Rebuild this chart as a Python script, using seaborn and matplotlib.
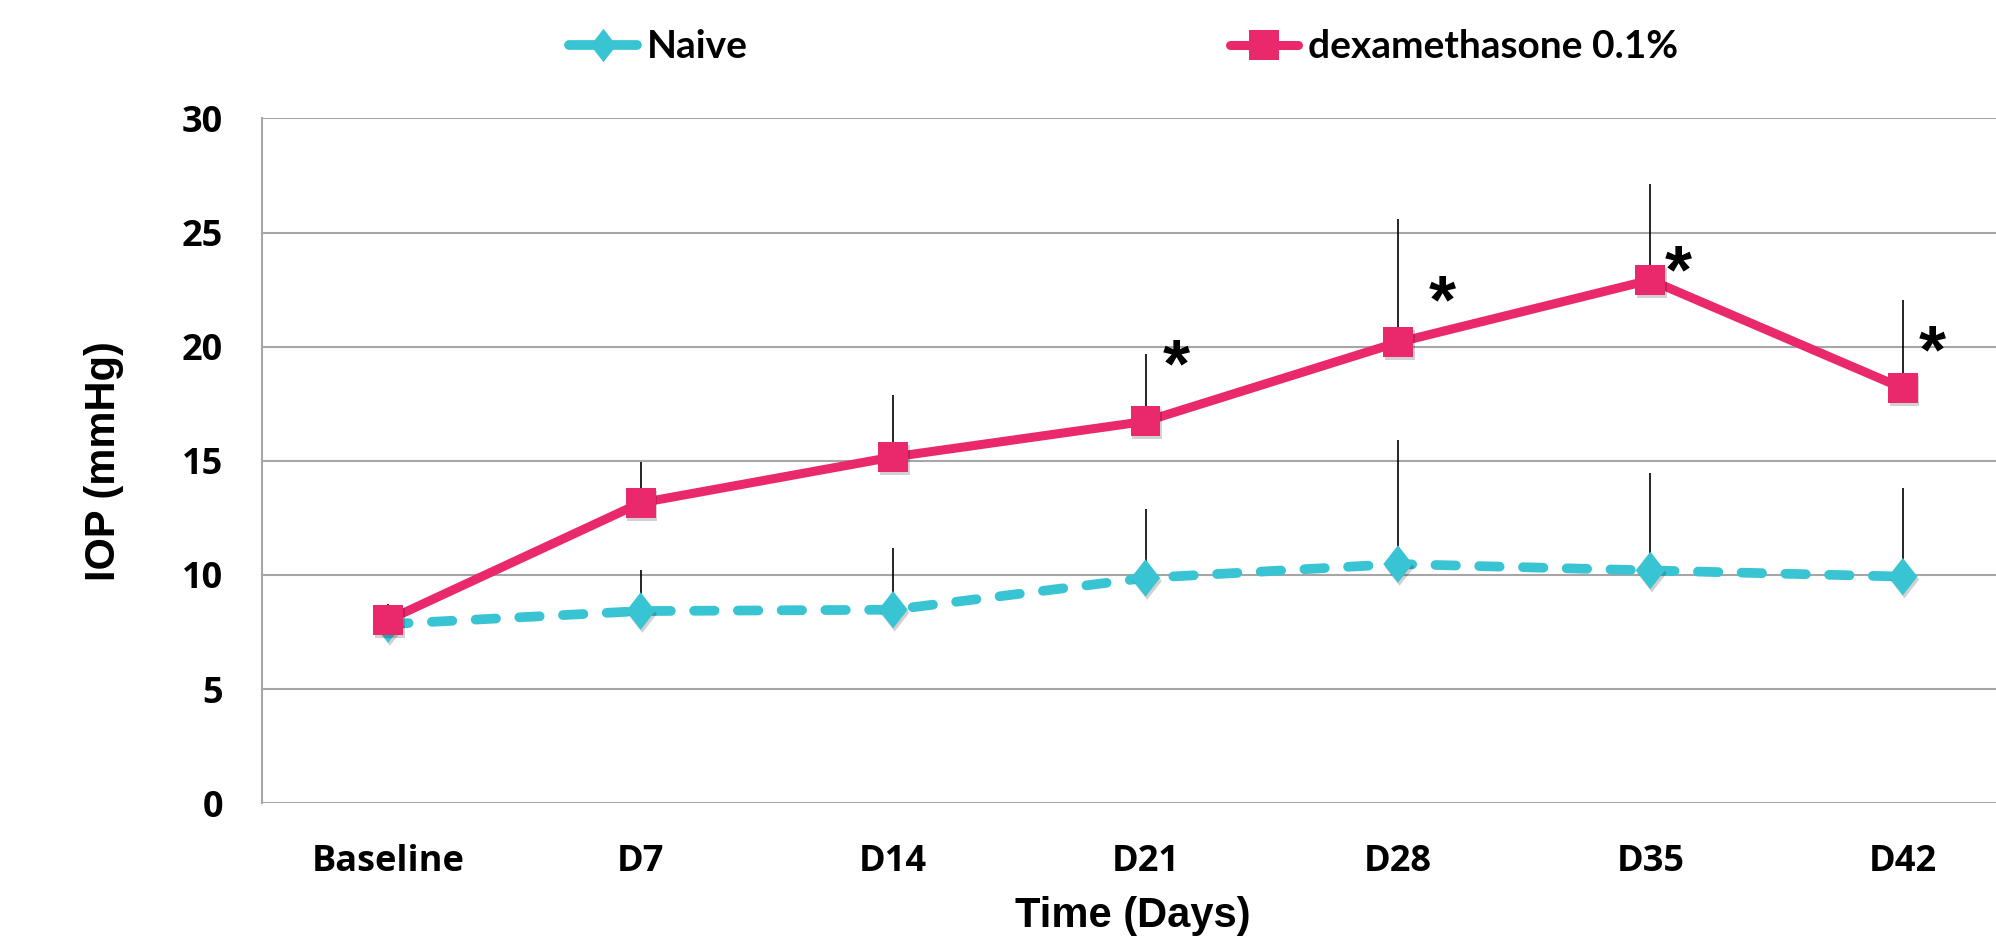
import numpy as np
import pandas as pd
import matplotlib
matplotlib.use("Agg")
import matplotlib.pyplot as plt
import matplotlib.patheffects as pe
from matplotlib.path import Path
from matplotlib.lines import Line2D
import seaborn as sns

# ---- data -------------------------------------------------------------
timepoints = ["Baseline", "D7", "D14", "D21", "D28", "D35", "D42"]
naive_mean = [7.85, 8.42, 8.48, 9.87, 10.48, 10.20, 9.93]
naive_err = [0.5, 1.8, 2.7, 3.0, 5.45, 4.25, 3.9]
dex_mean = [8.03, 13.16, 15.17, 16.73, 20.19, 22.92, 18.18]
dex_err = [0.7, 1.8, 2.7, 2.95, 5.4, 4.2, 3.85]
# significance marks beside the whiskers (category position, height in mmHg)
star_x = [3.12, 4.175, 5.11, 6.115]
star_y = [19.8, 22.6, 23.9, 20.4]
y_ticks = [0, 5, 10, 15, 20, 25, 30]

CYAN = "#38C4D3"
RED = "#E9296B"
GRID = "#A6A6A6"

sns.set_theme(style="white")
plt.rcParams["font.family"] = ["Open Sans", "DejaVu Sans"]
plt.rcParams.update({"text.color": "black", "axes.labelcolor": "black",
                     "xtick.color": "black", "ytick.color": "black"})

df = pd.DataFrame({
    "pos": np.tile(np.arange(len(timepoints)), 2),
    "iop": naive_mean + dex_mean,
    "err": naive_err + dex_err,
    "group": ["Naive"] * len(timepoints) + ["dexamethasone 0.1%"] * len(timepoints),
})

W, H = 1996, 942
fig = plt.figure(figsize=(W / 100, H / 100), dpi=100)
ax = fig.add_axes([262 / W, 1 - 803.3 / H, (2029 - 262) / W, (803.3 - 118.4) / H])

# slightly tall diamond
diamond = Path([(0, 1), (0.78, 0), (0, -1), (-0.78, 0), (0, 1)],
               [Path.MOVETO, Path.LINETO, Path.LINETO, Path.LINETO, Path.CLOSEPOLY])

naive = df[df.group == "Naive"]
dex = df[df.group != "Naive"]

# upper error whiskers
for sub in (naive, dex):
    ax.errorbar(sub["pos"], sub["iop"], yerr=[np.zeros(len(sub)), sub["err"]],
                fmt="none", ecolor="black", elinewidth=1.2, capsize=0, zorder=2)

# connecting lines
sns.lineplot(data=naive, x="pos", y="iop", ax=ax, color=CYAN, lw=7,
             dashes=False, legend=False, zorder=3)
ax.lines[-1].set_dashes([2.1, 2.4])
ax.lines[-1].set_dash_capstyle("round")
sns.lineplot(data=dex, x="pos", y="iop", ax=ax, color=RED, lw=6.5,
             legend=False, zorder=5)

shadow = [pe.SimplePatchShadow(offset=(1.2, -2.2), shadow_rgbFace="black", alpha=0.18),
          pe.Normal()]
sns.scatterplot(data=naive, x="pos", y="iop", ax=ax, marker=diamond,
                s=27 ** 2, color=CYAN, edgecolor="none", legend=False, zorder=4)
ax.collections[-1].set_path_effects(shadow)
sns.scatterplot(data=dex, x="pos", y="iop", ax=ax, marker="s",
                s=21.5 ** 2, color=RED, edgecolor="none", legend=False, zorder=6)
ax.collections[-1].set_path_effects(shadow)

for sx, sy in zip(star_x, star_y):
    ax.annotate("*", xy=(sx, sy), xytext=(0, -12), textcoords="offset points",
                fontsize=50, fontweight="bold",
                family=["Liberation Sans", "DejaVu Sans"],
                ha="center", va="center", color="black", zorder=7)

ax.set_xlim(-0.5, len(timepoints) - 0.5)
ax.set_ylim(0, 30)
ax.set_yticks(y_ticks)
ax.set_xticks(np.arange(len(timepoints)))
ax.set_xticklabels(timepoints)
ax.yaxis.grid(True, color=GRID, lw=1.5)
ax.xaxis.grid(False)
ax.set_axisbelow(True)
for side in ("top", "right", "bottom"):
    ax.spines[side].set_visible(False)
ax.spines["left"].set_color(GRID)
ax.spines["left"].set_linewidth(1.5)
ax.tick_params(axis="both", length=0, labelsize=26, labelcolor="black")
ax.tick_params(axis="y", pad=28)
ax.tick_params(axis="x", pad=29)
for lab in ax.get_xticklabels() + ax.get_yticklabels():
    lab.set_fontweight("bold")

label_font = dict(fontsize=30, fontweight="bold", color="black",
                  family=["Liberation Sans", "DejaVu Sans"])
ax.set_xlabel("Time (Days)", **label_font)
ax.set_ylabel("IOP (mmHg)", labelpad=42, **label_font)
ax.xaxis.set_label_coords((1133 - 262) / (2029 - 262), -(896 - 803.3) / (803.3 - 118.4))

handles = [
    Line2D([0], [0], color=CYAN, lw=7, marker=diamond, markersize=24,
           solid_capstyle="round", markeredgewidth=0),
    Line2D([0], [0], color=RED, lw=6.5, marker="s", markersize=21,
           solid_capstyle="round", markeredgewidth=0),
]
fig.legend(handles, ["Naive", "dexamethasone 0.1%"], loc="center left",
           bbox_to_anchor=(569 / W, 1 - 47 / H), ncol=2, frameon=False,
           handlelength=1.75, handletextpad=0.25, columnspacing=12.4,
           borderpad=0, borderaxespad=0, labelcolor="black",
           prop=dict(family=["Lato", "DejaVu Sans"], weight="bold", size=28))

fig.savefig("out.png", dpi=100)
